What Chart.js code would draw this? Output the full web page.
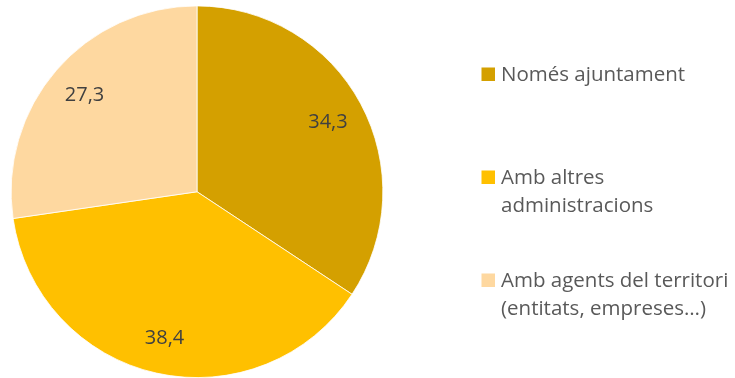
<!DOCTYPE html>
<html>
<head>
<meta charset="utf-8">
<script src="https://cdn.jsdelivr.net/npm/chart.js@4/dist/chart.umd.min.js"></script>
<style>
  html, body { margin: 0; padding: 0; background: #ffffff; }
  #wrap { width: 735px; height: 378px; position: relative; }
</style>
</head>
<body>
<div id="wrap"><canvas id="chart" width="735" height="378"></canvas></div>
<script>
// Categories (each entry is split into the lines shown in the legend)
const categories = [
  ['Només ajuntament'],
  ['Amb altres', 'administracions'],
  ['Amb agents del territori', '(entitats, empreses…)']
];
// Share of each category (%)
const shares = [34.3, 38.4, 27.3];
const sliceColors = ['#D4A000', '#FFC000', '#FED8A0'];

const FONT = '"Open Sans", sans-serif';

// Percent labels placed inside each slice along its mid angle
const sliceLabels = {
  id: 'sliceLabels',
  afterDatasetsDraw(chart) {
    const ctx = chart.ctx;
    const meta = chart.getDatasetMeta(0);
    ctx.save();
    ctx.font = '20px ' + FONT;
    ctx.fillStyle = '#404040';
    ctx.textAlign = 'center';
    ctx.textBaseline = 'middle';
    meta.data.forEach((arc, i) => {
      const p = arc.getProps(['x', 'y', 'startAngle', 'endAngle', 'outerRadius'], true);
      const mid = (p.startAngle + p.endAngle) / 2;
      const r = p.outerRadius * 0.8;
      const txt = shares[i].toFixed(1).replace('.', ',');
      ctx.fillText(txt, p.x + Math.cos(mid) * r, p.y + Math.sin(mid) * r + 1);
    });
    ctx.restore();
  }
};

// Legend on the right with multi-line entries
const sideLegend = {
  id: 'sideLegend',
  afterDraw(chart) {
    const ctx = chart.ctx;
    const labels = chart.data.labels;
    const colors = chart.data.datasets[0].backgroundColor;
    const boxX = 481.5, box = 13.5, textX = 501;
    const firstBaseline = 81, itemStep = 103, lineStep = 28.3;
    ctx.save();
    ctx.font = '20.5px ' + FONT;
    ctx.textAlign = 'left';
    ctx.textBaseline = 'alphabetic';
    labels.forEach((lines, i) => {
      const base = firstBaseline + i * itemStep;
      ctx.fillStyle = colors[i];
      ctx.fillRect(boxX, base - box, box, box);
      ctx.fillStyle = '#595959';
      lines.forEach((line, j) => {
        ctx.fillText(line, textX, base + j * lineStep);
      });
    });
    ctx.restore();
  }
};

new Chart(document.getElementById('chart'), {
  type: 'pie',
  data: {
    labels: categories,
    datasets: [{
      data: shares,
      backgroundColor: sliceColors,
      borderColor: '#ffffff',
      borderWidth: 0.8
    }]
  },
  options: {
    responsive: false,
    animation: false,
    layout: { padding: { left: 10.5, right: 351.5, top: 5.5, bottom: 0 } },
    plugins: {
      legend: { display: false },
      tooltip: { enabled: false }
    }
  },
  plugins: [sliceLabels, sideLegend]
});
</script>
</body>
</html>
